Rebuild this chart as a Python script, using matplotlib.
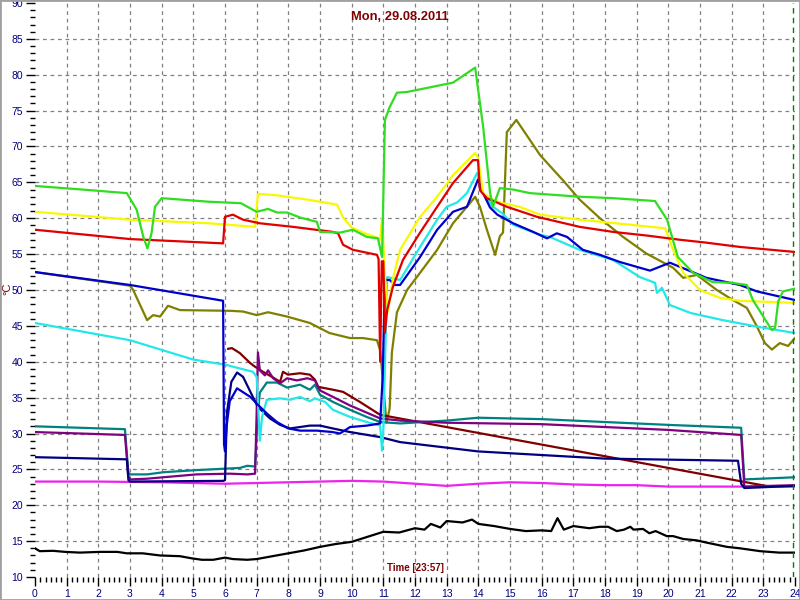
import numpy as np
import matplotlib
matplotlib.use("Agg")
import matplotlib.pyplot as plt
from matplotlib.patches import Rectangle

plt.rcParams["font.family"] = ["Liberation Sans", "DejaVu Sans"]

# ---- data (hours, degC) ----
green_x = [0, 1.5, 2.9, 3.21, 3.42, 3.55, 3.68, 3.79, 4.0, 5.5, 6.5, 7.0, 7.36, 7.64, 7.96, 8.37, 8.9, 9.0, 9.63,
           10.04, 10.48, 10.83, 10.96, 11.05, 11.2, 11.43, 11.75, 13.2, 13.9, 14.15, 14.37, 14.46, 14.68, 15.1, 15.63,
           17.2, 18.25, 19.58, 19.96, 20.3, 20.78, 21.4, 22.0, 22.48, 22.67, 23.27, 23.37, 23.47, 23.62, 24.0]
green_y = [64.5, 64.0, 63.5, 61.2, 57.4, 55.8, 57.9, 61.6, 62.8, 62.3, 62.1, 60.9, 61.3, 60.8, 60.8, 60.1, 59.5, 58.1, 58.0,
           58.4, 57.4, 57.2, 54.6, 73.7, 75.5, 77.5, 77.6, 78.9, 81.0, 72.8, 63.6, 61.6, 64.2, 64.0, 63.5,
           63.0, 62.8, 62.4, 59.8, 54.6, 52.4, 51.1, 51.0, 50.7, 48.6, 44.4, 44.7, 48.4, 49.8, 50.2]

yellow_x = [0, 3.0, 5.5, 6.95, 7.04, 7.64, 8.6, 9.54, 9.73, 10.0, 10.36, 10.8, 10.9, 10.96, 11.05, 11.15, 11.3, 11.53,
            12.16, 12.7, 13.2, 13.9, 13.99, 14.15, 14.46, 14.68, 15.3, 15.95, 17.2, 18.8, 19.9, 20.15, 20.47, 21.0,
            21.63, 22.26, 24.0]
yellow_y = [60.9, 59.8, 59.3, 58.8, 63.4, 63.2, 62.6, 61.9, 60.1, 58.7, 58.0, 57.3, 57.0, 60.0, 52.0, 47.0, 51.5, 55.6,
            60.2, 63.0, 66.0, 69.1, 68.4, 63.5, 62.6, 62.2, 61.6, 60.5, 59.8, 59.1, 58.6, 55.6, 52.4, 50.0,
            48.9, 48.5, 48.2]

red_x = [0, 3.0, 5.94, 6.0, 6.25, 6.57, 7.1, 8.15, 9.4, 9.57, 9.73, 10.04, 10.8, 10.85, 10.9, 10.95, 11.0, 11.05, 11.12,
         11.3, 11.62, 12.16, 12.7, 13.2, 13.83, 13.99, 14.05, 14.27, 14.9, 15.85, 17.2, 18.25, 19.3, 20.37, 21.2,
         22.26, 24.0]
red_y = [58.4, 57.1, 56.5, 60.2, 60.5, 59.8, 59.3, 58.8, 58.1, 57.9, 56.3, 55.6, 54.9, 54.3, 40.0, 54.0, 54.0, 44.0, 47.2,
         50.4, 54.2, 58.0, 61.6, 64.9, 68.1, 68.1, 63.9, 62.8, 61.6, 60.2, 58.8, 58.1, 57.6, 57.0, 56.6,
         56.0, 55.3]

blue_x = [0, 3.0, 5.94, 5.97, 6.0, 6.05, 6.15, 6.38, 6.8, 7.04, 7.32, 7.64, 8.0, 8.37, 8.9, 9.4, 9.63, 9.95, 10.48,
          10.9, 10.98, 11.05, 11.2, 11.37, 11.53, 12.16, 12.7, 13.2, 13.64, 13.99, 14.15, 14.37, 14.6, 15.1, 15.73,
          16.17, 16.48, 16.8, 17.3, 17.84, 18.47, 19.42, 20.05, 21.2, 22.26, 22.8, 24.0]
blue_y = [52.5, 50.7, 48.5, 28.5, 27.5, 31.0, 34.5, 36.3, 35.1, 34.0, 32.8, 31.6, 30.7, 30.4, 30.4, 30.2, 30.0, 30.9, 31.1,
          31.4, 38.0, 51.4, 51.4, 50.7, 50.7, 54.6, 58.4, 60.9, 61.6, 65.4, 63.5, 61.5, 60.5, 59.3, 58.1,
          57.2, 57.9, 57.4, 55.6, 54.9, 53.9, 52.7, 53.8, 51.7, 50.7, 49.8, 48.6]

navy_x = [0, 2.9, 2.95, 3.0, 5.95, 6.0, 6.06, 6.2, 6.38, 6.57, 6.88, 7.04, 7.42, 7.74, 8.05, 8.68, 9.0, 9.41, 9.95,
          10.9, 11.53, 14.0, 18.0, 22.2, 22.3, 22.4, 24.0]
navy_y = [26.7, 26.4, 23.5, 23.3, 23.4, 23.5, 32.9, 37.2, 38.5, 37.9, 35.1, 33.7, 32.1, 31.2, 30.7, 31.1, 31.1, 30.7, 30.2,
          29.5, 28.8, 27.5, 26.5, 26.2, 23.0, 22.4, 22.7]

cyan_x = [0, 3.0, 5.0, 6.0, 6.88, 7.0, 7.1, 7.17, 7.32, 7.74, 8.05, 8.37, 8.68, 8.84, 9.16, 9.41, 9.95, 10.48, 10.9,
          10.96, 11.0, 11.12, 11.53, 12.16, 12.7, 13.0, 13.33, 13.64, 13.96, 14.15, 14.46, 14.75, 15.1, 15.95, 16.26,
          17.2, 18.25, 19.1, 19.58, 19.64, 19.8, 20.05, 20.7, 21.72, 22.8, 24.0]
cyan_y = [45.4, 43.0, 40.3, 39.6, 38.6, 37.9, 29.0, 32.3, 34.7, 34.9, 34.7, 35.1, 34.5, 34.9, 34.4, 33.3, 32.3, 31.6, 31.1,
          27.6, 30.5, 51.8, 51.4, 56.0, 59.8, 61.6, 62.2, 63.5, 66.3, 63.5, 61.6, 60.7, 59.1, 57.7, 57.4,
          55.6, 54.2, 51.8, 51.0, 49.6, 50.3, 47.9, 46.8, 45.8, 44.9, 44.0]

olive_x = [0, 3.0, 3.1, 3.54, 3.73, 3.95, 4.2, 4.58, 6.16, 6.57, 7.0, 7.36, 7.96, 8.68, 9.3, 9.95, 10.36, 10.8, 10.9,
           11.1, 11.2, 11.27, 11.43, 11.75, 12.16, 12.7, 13.2, 13.64, 13.9, 14.05, 14.27, 14.53, 14.68, 14.78, 14.9,
           15.2, 15.63, 15.95, 16.67, 17.2, 17.84, 18.57, 19.3, 20.15, 20.47, 20.9, 21.53, 22.04, 22.48, 22.8,
           23.05, 23.27, 23.52, 23.78, 24.0]
olive_y = [52.5, 50.6, 50.0, 45.8, 46.5, 46.3, 47.8, 47.2, 47.1, 47.0, 46.5, 46.9, 46.3, 45.4, 44.0, 43.3, 43.3, 43.0, 41.6,
           31.5, 33.5, 41.3, 46.9, 50.0, 52.4, 55.6, 59.3, 61.6, 63.0, 61.6, 58.4, 54.9, 57.5, 58.0, 72.0,
           73.7, 70.9, 68.8, 65.3, 62.6, 60.0, 57.4, 55.1, 53.1, 51.7, 52.1, 50.0, 48.6, 47.5, 44.9,
           42.6, 41.7, 42.6, 42.2, 43.3]

maroon_x = [6.1, 6.22, 6.47, 6.8, 6.95, 7.2, 7.52, 7.74, 7.83, 7.99, 8.37, 8.68, 8.84, 8.94, 9.41, 9.73, 10.26, 10.9, 23.2]
maroon_y = [41.8, 41.9, 41.2, 39.8, 39.3, 38.6, 37.8, 37.2, 38.6, 38.2, 38.4, 38.2, 37.5, 36.5, 36.1, 35.8, 34.4, 32.6, 22.6]

purple_x = [0, 2.84, 2.95, 3.0, 3.54, 4.05, 5.1, 6.16, 6.7, 6.95, 7.0, 7.04, 7.1, 7.26, 7.36, 7.52, 7.74, 7.96, 8.27,
            8.6, 8.84, 9.0, 9.41, 9.95, 10.48, 10.9, 11.53, 13.0, 16.0, 20.0, 22.3, 22.4, 24.0]
purple_y = [30.2, 29.8, 24.0, 23.6, 23.7, 23.9, 24.3, 24.4, 24.3, 24.4, 33.0, 41.3, 38.8, 38.1, 38.8, 37.7, 37.0, 37.7, 37.4,
            37.7, 37.4, 36.0, 35.1, 33.9, 32.9, 32.1, 31.8, 31.5, 31.3, 30.5, 29.8, 22.6, 22.8]

teal_x = [0, 2.84, 2.95, 3.0, 3.54, 4.05, 5.1, 6.47, 6.7, 6.95, 7.04, 7.1, 7.32, 7.64, 7.96, 8.37, 8.68, 8.84, 9.0,
          9.41, 9.95, 10.48, 10.9, 11.53, 13.0, 14.0, 16.0, 20.0, 22.3, 22.4, 24.0]
teal_y = [31.0, 30.6, 24.5, 24.3, 24.3, 24.6, 24.9, 25.2, 25.5, 25.4, 33.0, 35.7, 37.1, 37.1, 36.4, 36.8, 36.1, 36.8, 35.4,
          34.4, 33.3, 32.3, 31.6, 31.4, 31.8, 32.2, 32.0, 31.2, 30.8, 23.6, 23.9]

magenta_x = [0, 2, 4, 6, 8, 10, 11, 12, 13, 14, 15, 16, 17, 18, 19, 20, 22, 24]
magenta_y = [23.3, 23.3, 23.2, 23.0, 23.2, 23.4, 23.3, 23.0, 22.7, 23.0, 23.2, 23.1, 22.9, 22.8, 22.8, 22.6, 22.6, 22.6]

black_x = [0, 0.15, 0.57, 0.95, 1.42, 2.05, 2.6, 2.9, 3.4, 3.95, 4.58, 4.95, 5.27, 5.63, 6.0, 6.25, 6.7, 7.0, 7.5,
           8.0, 8.5, 9.0, 9.5, 10.0, 10.5, 11.0, 11.5, 12.0, 12.3, 12.5, 12.8, 13.0, 13.5, 13.8, 14.0, 14.5,
           15.0, 15.5, 16.0, 16.3, 16.5, 16.7, 17.0, 17.5, 17.84, 18.1, 18.37, 18.6, 18.8, 18.9, 19.2, 19.4,
           19.6, 19.95, 20.15, 20.47, 20.9, 21.2, 21.85, 22.26, 22.9, 23.5, 24.0]
black_y = [14.0, 13.6, 13.65, 13.5, 13.4, 13.5, 13.5, 13.3, 13.3, 13.0, 12.9, 12.6, 12.4, 12.4, 12.7, 12.5, 12.4, 12.5, 12.9,
           13.3, 13.7, 14.2, 14.6, 14.9, 15.6, 16.3, 16.2, 16.8, 16.6, 17.4, 16.9, 17.8, 17.6, 18.0, 17.4, 17.1,
           16.7, 16.4, 16.5, 16.4, 18.2, 16.6, 17.1, 16.8, 17.0, 17.0, 16.4, 16.6, 17.0, 16.6, 16.7, 16.1,
           16.4, 15.7, 15.7, 15.3, 15.1, 14.8, 14.2, 14.0, 13.6, 13.4, 13.4]

series = [
    (magenta_x, magenta_y, "#ee22ee"),
    (black_x, black_y, "#000000"),
    (olive_x, olive_y, "#808000"),
    (maroon_x, maroon_y, "#800000"),
    (teal_x, teal_y, "#008080"),
    (purple_x, purple_y, "#800080"),
    (navy_x, navy_y, "#000080"),
    (cyan_x, cyan_y, "#22e8e8"),
    (blue_x, blue_y, "#0000cc"),
    (yellow_x, yellow_y, "#f8f800"),
    (red_x, red_y, "#e00000"),
    (green_x, green_y, "#30dd20"),
]

fig = plt.figure(figsize=(8, 6), dpi=100)
ax = fig.add_axes([35 / 800, 1 - 577 / 600, 760 / 800, 574 / 600])

for x, y, c in series:
    ax.plot(x, y, color=c, lw=1.6, solid_joinstyle="round")

ax.set_xlim(0, 24)
ax.set_ylim(10, 90)
ax.set_xticks(range(0, 25))
ax.set_yticks(range(10, 91, 5))
ax.set_xticks(np.arange(0, 24.01, 1 / 6), minor=True)
ax.set_yticks(range(10, 91), minor=True)
ax.tick_params(which="major", direction="out", length=6.5, width=1, color="black",
               labelsize=7.5, labelcolor="#000080", pad=2)
ax.tick_params(which="minor", direction="out", length=3.5, width=1, color="black")

for s in ax.spines.values():
    s.set_visible(False)

ax.grid(which="major", color="#808080", linestyle=(0, (3, 3)), linewidth=0.9)
ax.set_axisbelow(True)
xg = ax.xaxis.get_gridlines()
xg[0].set_visible(False)
xg[-1].set_visible(False)
yg = ax.yaxis.get_gridlines()
yg[0].set_visible(False)
yg[-1].set_visible(False)

# current time marker
ax.axvline(23.95, color="#008000", linestyle=(0, (4, 3)), lw=1)

fig.text(400 / 800, 1 - 17 / 600, "Mon, 29.08.2011", ha="center", va="center",
         fontsize=9.3, fontweight="bold", color="#800000")
fig.text(415 / 800, 1 - 568 / 600, "Time [23:57]", ha="center", va="center",
         fontsize=7, fontweight="bold", color="#800000")
fig.text(7 / 800, 1 - 289 / 600, "°C", ha="center", va="center", rotation=90,
         fontsize=8, color="#800000")

fig.patches.append(Rectangle((0, 0), 1, 1, transform=fig.transFigure, fill=False,
                             edgecolor="#a0a0a0", lw=2))

fig.savefig("out.png", dpi=100)
